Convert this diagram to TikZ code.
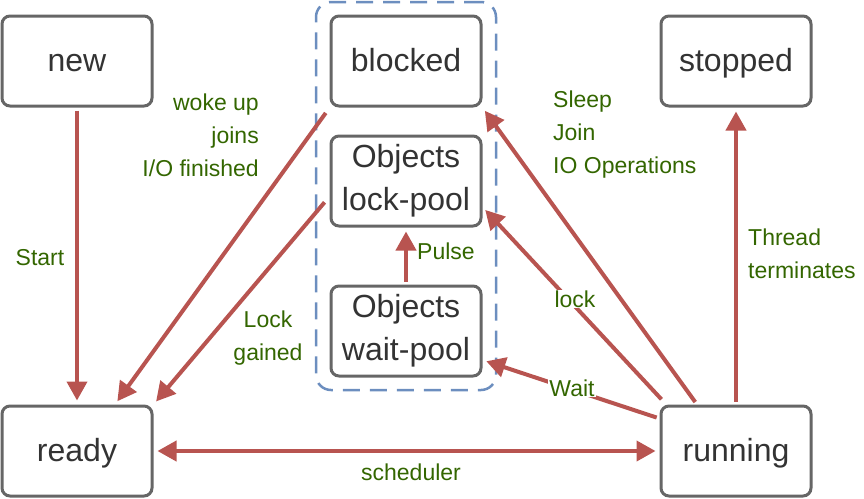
\documentclass[tikz,border=0pt]{standalone}
\usepackage{fontspec}
\setmainfont{Liberation Sans}
\usetikzlibrary{arrows.meta, fit}
\definecolor{myred}{RGB}{184,84,80}
\definecolor{mygreen}{RGB}{51,102,0}
\definecolor{myblue}{RGB}{108,142,191}
\definecolor{mygray}{RGB}{102,102,102}
\definecolor{mytext}{RGB}{51,51,51}

\begin{document}
\begin{tikzpicture}[x=1pt,y=-1pt,
state/.style={draw=mygray, line width=3pt, rounded corners=8pt, minimum width=150pt, minimum height=90pt, text=mytext, align=center, font=\fontsize{32}{43}\selectfont},
oneline/.style={text height=24pt, text depth=4pt},
trans/.style={draw=myred, line width=4pt, -{Triangle[length=19pt,width=20pt]}, shorten >=4pt, shorten <=3pt},
lbl/.style={text=mygreen, font=\fontsize{23}{33}\selectfont, inner sep=1pt}
]
\useasboundingbox (0,0) rectangle (864,498);

% states
\node[state, oneline] (new) at (77,61) {new};
\node[state, oneline] (blocked) at (406,61) {blocked};
\node[state] (lockpool) at (406,181) {Objects\\lock-pool};
\node[state] (waitpool) at (406,331) {Objects\\wait-pool};
\node[state, oneline] (stopped) at (736,61) {stopped};
\node[state, oneline] (ready) at (77,451) {ready};
\node[state, oneline] (running) at (736,451) {running};

% blocked group
\node[draw=myblue, line width=2.5pt, dash pattern=on 17pt off 10pt, rounded corners=15pt, inner xsep=13.5pt, inner ysep=12.5pt, fit=(blocked)(waitpool)] (group) {};

% transitions
\draw[trans] (new.south) -- (ready.north);
\draw[trans] ([xshift=-2pt,yshift=-3pt]blocked.south west) -- ([xshift=38pt]ready.north);
\draw[trans] ([xshift=-3pt,yshift=-19pt]lockpool.west) -- (ready.north east);
\draw[trans] ([xshift=-39pt]running.north) -- (blocked.south east);
\draw[trans] ([xshift=4pt,yshift=3pt]running.north west) -- ([yshift=-26pt]lockpool.east);
\draw[trans] ([yshift=-14pt]running.north west) -- ([yshift=-29pt]waitpool.east);
\draw[trans] (waitpool.north) -- (lockpool.south);
\draw[trans] (running.north) -- (stopped.south);
\draw[trans, {Triangle[length=19pt,width=20pt]}-{Triangle[length=19pt,width=20pt]}, shorten <=4pt] (ready.east) -- (running.west);

% labels
\node[lbl, align=right, anchor=east] (wokeup) at (260,135) {woke up\\joins\\I/O finished};
\node[lbl] (start) at (40,258) {Start};
\node[lbl, align=center] (gained) at (268,338) {Lock\\gained};
\node[lbl, align=left, anchor=west] (sleep) at (552,135) {Sleep\\Join\\IO Operations};
\node[lbl] (pulse) at (446,251) {Pulse};
\node[lbl, fill=white] (lock) at (575,299) {lock};
\node[lbl, fill=white] (wait) at (572,388) {Wait};
\node[lbl, align=left, anchor=west] (thread) at (747,254) {Thread\\terminates};
\node[lbl] (sched) at (411,472) {scheduler};
\end{tikzpicture}
\end{document}
